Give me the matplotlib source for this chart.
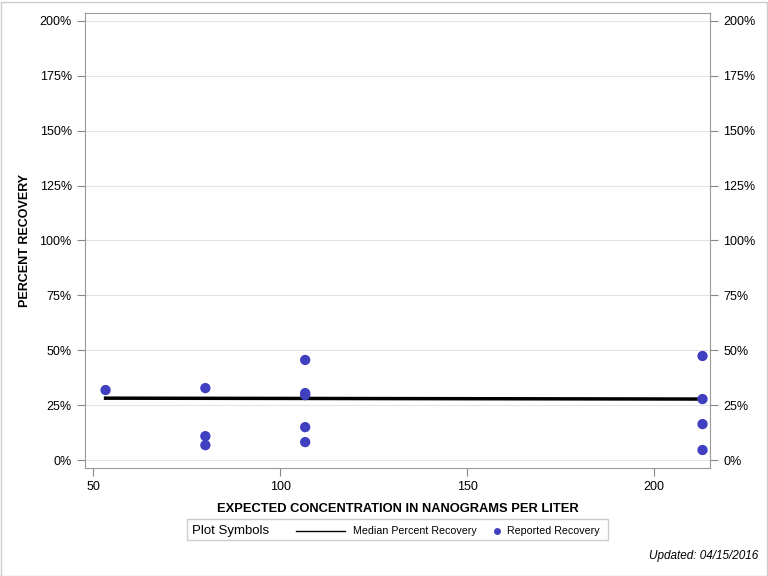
import matplotlib
matplotlib.use("Agg")
import matplotlib.pyplot as plt
from matplotlib.lines import Line2D
from matplotlib.patches import Rectangle

plt.rcParams['font.family'] = ['Liberation Sans', 'DejaVu Sans']

# reported recovery points
conc = [53.3, 80, 80, 80, 106.7, 106.7, 106.7, 106.7, 106.7, 213, 213, 213, 213]
recovery = [31.9, 32.8, 10.9, 6.8, 45.6, 30.5, 29.6, 15.0, 8.2, 47.4, 27.8, 16.4, 4.6]

# median line
med_x = [53.3, 213]
med_y = [28.2, 27.8]

yticks = [0, 25, 50, 75, 100, 125, 150, 175, 200]
xticks = [50, 100, 150, 200]

fig = plt.figure(figsize=(7.68, 5.76), dpi=100)
ax = fig.add_axes([85/768, 108/576, 625/768, 455/576])

for y in yticks:
    ax.axhline(y, color='#e4e4e4', lw=0.8, zorder=0)

ax.plot(med_x, med_y, color='black', lw=2.5, zorder=2)
ax.scatter(conc, recovery, s=55, color='#3f3fbf', zorder=3, edgecolors='none')

ax.set_xlim(47.8, 215)
ax.set_ylim(-3.6, 203.6)
ax.set_xticks(xticks)
ax.set_yticks(yticks)
ax.set_yticklabels([f"{v}%" for v in yticks])
ax.tick_params(axis='both', colors='#888888', labelcolor='black', labelsize=9, length=6, direction='out')
ax.tick_params(axis='y', right=True, labelright=True)
for s in ax.spines.values():
    s.set_color('#999999')

ax.set_xlabel('EXPECTED CONCENTRATION IN NANOGRAMS PER LITER', fontsize=9.3, fontweight='bold', labelpad=7)
ax.set_ylabel('PERCENT RECOVERY', fontsize=9, fontweight='bold', labelpad=6)

# legend box
fig.patches.append(Rectangle((187/768, 1 - 540/576), 421/768, 21/576, transform=fig.transFigure,
                             fill=False, edgecolor='#cccccc', lw=1))
fig.text(192/768, 1 - 531/576, 'Plot Symbols', fontsize=9.5, va='center')
fig.lines.append(Line2D([296/768, 345/768], [1 - 531/576] * 2, transform=fig.transFigure, color='black', lw=1))
fig.text(353/768, 1 - 531/576, 'Median Percent Recovery', fontsize=7.7, va='center')
fig.lines.append(Line2D([497/768], [1 - 531/576], transform=fig.transFigure, marker='o', ms=5,
                        color='#3f3fbf', mec='none', ls='none'))
fig.text(507/768, 1 - 531/576, 'Reported Recovery', fontsize=7.7, va='center')

fig.text(758/768, 1 - 556/576, 'Updated: 04/15/2016', fontsize=8.5, style='italic', ha='right', va='center')

fig.patches.append(Rectangle((0.5/768, 0.5/576), 766/768, 574/576, transform=fig.transFigure,
                             fill=False, edgecolor='#cccccc', lw=1))

fig.savefig('out.png', dpi=100)
